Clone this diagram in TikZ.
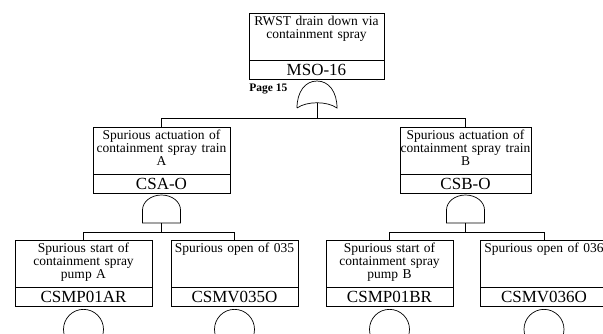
\documentclass[tikz,border=0pt]{standalone}
\usepackage{fontspec}
\setmainfont{Liberation Serif}
\usetikzlibrary{positioning}

\tikzset{
	evt/.style={draw, anchor=north, text width=#1, align=center, inner sep=0pt, outer sep=0pt,
		text height=12pt, text depth=35pt, font=\fontsize{13.5}{13}\selectfont},
	evid/.style={draw, minimum width=#1, minimum height=19pt, inner sep=0pt, outer sep=0pt,
		font=\fontsize{17}{17}\selectfont},
	basic/.style={draw, circle, minimum size=40pt, inner sep=0pt},
	pagelbl/.style={font=\bfseries\fontsize{11.5}{11.5}\selectfont, inner sep=0pt}
}

\begin{document}
\begin{tikzpicture}[x=1pt, y=1pt, line width=0.7pt]
\useasboundingbox (0,0) rectangle (603,-333);
\clip (0,0) rectangle (603,-333);

% Evento superior
\node[evt=135pt] (mso) at (316.5,-13) {RWST drain down via\\containment spray};
\node[evid=135pt, below=0pt of mso] (msoid) {MSO-16};
\node[pagelbl, anchor=west] (pg) at (249,-89) {Page 15};

% Puerta OR
\draw (297,-108) .. controls (297,-92) and (305,-81) .. (317,-81)
	.. controls (329,-81) and (337,-92) .. (337,-108)
	.. controls (327,-101) and (307,-101) .. (297,-108);
\coordinate (gor) at (317,-102.75);
\coordinate (jor) at (317,-118);
\draw (gor) -- (jor);

% Eventos intermedios
\node[evt=137pt] (csa) at (161.5,-127) {Spurious actuation of\\containment spray train\\A};
\node[evid=137pt, below=0pt of csa] (csaid) {CSA-O};
\node[evt=131pt] (csb) at (465.5,-127) {Spurious actuation of\\containment spray train\\B};
\node[evid=131pt, below=0pt of csb] (csbid) {CSB-O};
\draw (jor) -| (csa.north);
\draw (jor) -| (csb.north);

% Puertas AND
\foreach \x/\g in {161.5/A, 465.5/B} {
	\draw (\x-19,-223) -- (\x-19,-210) arc[start angle=180, end angle=0, x radius=19, y radius=15]
		-- (\x+19,-223) -- cycle;
	\coordinate (g\g) at (\x,-223);
	\coordinate (j\g) at (\x,-232);
	\draw (g\g) -- (j\g);
}

% Eventos basicos
\node[evt=137pt] (pa) at (83.5,-240) {Spurious start of\\containment spray\\pump A};
\node[evid=137pt, below=0pt of pa] (paid) {CSMP01AR};
\node[basic, below=3pt of paid] (pac) {};

\node[evt=127pt] (va) at (234.5,-240) {Spurious open of 035};
\node[evid=127pt, below=0pt of va] (vaid) {CSMV035O};
\node[basic, below=3pt of vaid] (vac) {};

\node[evt=127pt] (pb) at (389.5,-240) {Spurious start of\\containment spray\\pump B};
\node[evid=127pt, below=0pt of pb] (pbid) {CSMP01BR};
\node[basic, below=3pt of pbid] (pbc) {};

\node[evt=128pt] (vb) at (544,-240) {Spurious open of 036};
\node[evid=128pt, below=0pt of vb] (vbid) {CSMV036O};
\node[basic, below=3pt of vbid] (vbc) {};

\draw (jA) -| (pa.north);
\draw (jA) -| (va.north);
\draw (jB) -| (pb.north);
\draw (jB) -| (vb.north);
\end{tikzpicture}
\end{document}
